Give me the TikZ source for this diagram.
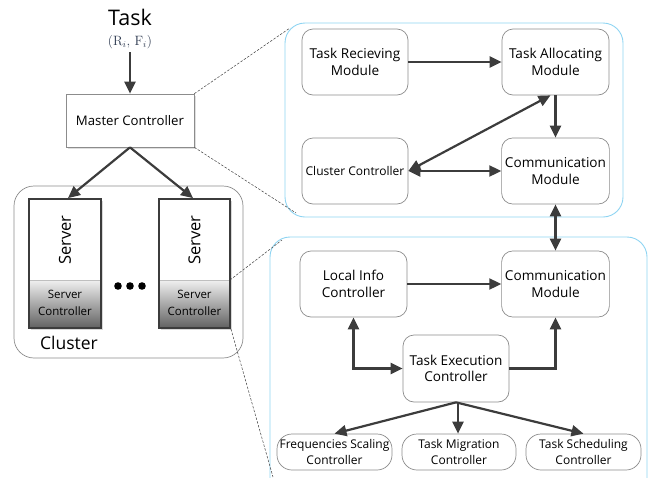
\documentclass[tikz,border=0pt]{standalone}
\usepackage{fontspec}
\newfontfamily\osans{Open Sans}
\usetikzlibrary{arrows.meta,shadows}
\definecolor{arr}{HTML}{3C3C3C}
\definecolor{bord}{HTML}{8C8C8C}
\definecolor{lblue}{HTML}{8ED4F2}
\definecolor{rfcol}{HTML}{2E3A50}
\tikzset{
  arrowline/.style={draw=arr,line width=2.2pt,-{Triangle[length=12pt,width=11pt]}},
  dblline/.style={draw=arr,line width=2.2pt,{Triangle[length=12pt,width=11pt]}-{Triangle[length=12pt,width=11pt]}},
  modbox/.style={draw=bord,line width=0.7pt,rounded corners=11pt,fill=white,align=center,font=\osans\fontsize{13.6}{16.5}\selectfont,text=black},
  smallbox/.style={draw=bord,line width=0.7pt,rounded corners=15pt,fill=white,align=center,font=\osans\fontsize{12}{15.5}\selectfont,minimum width=114pt,minimum height=36pt,inner sep=0pt},
  dashline/.style={draw=black!75,dash pattern=on 2.5pt off 1.5pt,line width=0.5pt},
  container/.style={draw=lblue,line width=0.9pt,rounded corners=20pt},
}
\begin{document}
\begin{tikzpicture}[x=1pt,y=-1pt]
\useasboundingbox (0,0) rectangle (651,477);
\begin{scope}
\clip (0,0) rectangle (651,477);
% containers
\draw[container] (285,23) rectangle (623,217);
\draw[container] (270,237) rectangle (647,510);
\end{scope}
% cluster
\draw[draw=bord,line width=0.7pt,rounded corners=20pt] (14,186) rectangle (243,358);
\node[font=\osans\fontsize{17.5}{20}\selectfont] (clus) at (69,343) {Cluster};

% Task
\node[font=\osans\fontsize{21.5}{24}\selectfont] (task) at (130,17) {Task};
\node[font=\fontsize{13.5}{15}\selectfont,text=rfcol] (rf) at (130,42) {(R$_{\scriptstyle i}$, F$_{\scriptstyle i}$)};
\coordinate (tstart) at (130,52);

% master
\node[draw=bord,line width=0.7pt,fill=white,minimum width=128pt,minimum height=53pt,inner sep=0pt,
  font=\osans\fontsize{13.2}{15}\selectfont,drop shadow={opacity=0.25,shadow xshift=1.5pt,shadow yshift=-1.5pt}] (master) at (130,120.5) {Master Controller};

% servers
\foreach \nm/\xl/\xr in {srvL/29/101,srvR/159/230}{
  \fill[black!30,opacity=0.5] (\xl+2,201) rectangle (\xr+2,330);
  \fill[white] (\xl,199) rectangle (\xr,280);
  \shade[top color=black!6,bottom color=black!62] (\xl,280) rectangle (\xr,328);
  \draw[black!25,line width=0.6pt] (\xl,280) -- (\xr,280);
  \node[draw=arr,line width=1.8pt,minimum width={\xr-\xl},minimum height=129pt,inner sep=0pt] (\nm) at ({(\xl+\xr)/2},263.5) {};
  \node[rotate=90,font=\osans\fontsize{16.5}{18}\selectfont] at ({(\xl+\xr)/2},240) {Server};
  \node[align=center,font=\osans\fontsize{11.5}{16.5}\selectfont] at ({(\xl+\xr)/2},303) {Server\\Controller};
}
\foreach \x in {118,130,142}{\fill[black] (\x,286) circle (3.8pt);}

% top modules
\node[modbox,minimum width=106pt,minimum height=66pt] (trm) at (355,62) {Task Recieving\\Module};
\node[modbox,minimum width=107pt,minimum height=66pt] (tam) at (555.5,62) {Task Allocating\\Module};
\node[modbox,minimum width=106pt,minimum height=66pt,font=\osans\fontsize{12}{14}\selectfont] (cc) at (355,171) {Cluster Controller};
\node[modbox,minimum width=107pt,minimum height=66pt] (cm1) at (555.5,171) {Communication\\Module};

% bottom modules
\node[modbox,minimum width=107pt,minimum height=66pt] (lic) at (353.5,284) {Local Info\\Controller};
\node[modbox,minimum width=107pt,minimum height=66pt] (cm2) at (555.5,284) {Communication\\Module};
\node[modbox,minimum width=106pt,minimum height=67pt] (tec) at (456,368.5) {Task Execution\\Controller};
\node[smallbox,minimum width=115pt] (fsc) at (334.5,452) {Frequencies Scaling\\Controller};
\node[smallbox] (tmc) at (459,452) {Task Migration\\Controller};
\node[smallbox,minimum width=115pt] (tsc) at (583.5,452) {Task Scheduling\\Controller};

% dashed guide lines
\coordinate (d1) at (290,28);
\coordinate (d2) at (296,213);
\coordinate (d3) at (230,280);
\coordinate (d4) at (282,240);
\coordinate (d5) at (273,477);
\draw[dashline] (master.north east) -- (d1);
\draw[dashline] (master.south east) -- (d2);
\draw[dashline] (d3) -- (d4);
\draw[dashline] (srvR.south east) -- (d5);

% arrows
\draw[arrowline] (tstart) -- (master.north);
\draw[arrowline] (master.south) -- ([xshift=3pt]srvL.north);
\draw[arrowline] (master.south) -- ([xshift=-1.5pt]srvR.north);
\draw[arrowline] (trm.east) -- (tam.west);
\draw[arrowline] (tam.south) -- (cm1.north);
\draw[dblline] (cc.east) -- ([xshift=-5pt]tam.south);
\draw[dblline] (cc.east) -- (cm1.west);
\draw[dblline] (cm1.south) -- (cm2.north);
\draw[arrowline] (lic.east) -- (cm2.west);
\draw[dblline] (lic.south) |- (tec.west);
\draw[arrowline] (tec.east) -| (cm2.south);
\draw[arrowline] (tec.south) -- (fsc.north);
\draw[arrowline] ([xshift=2pt]tec.south) -- ([xshift=-1pt]tmc.north);
\draw[arrowline] (tec.south) -- (tsc.north);
\end{tikzpicture}
\end{document}
